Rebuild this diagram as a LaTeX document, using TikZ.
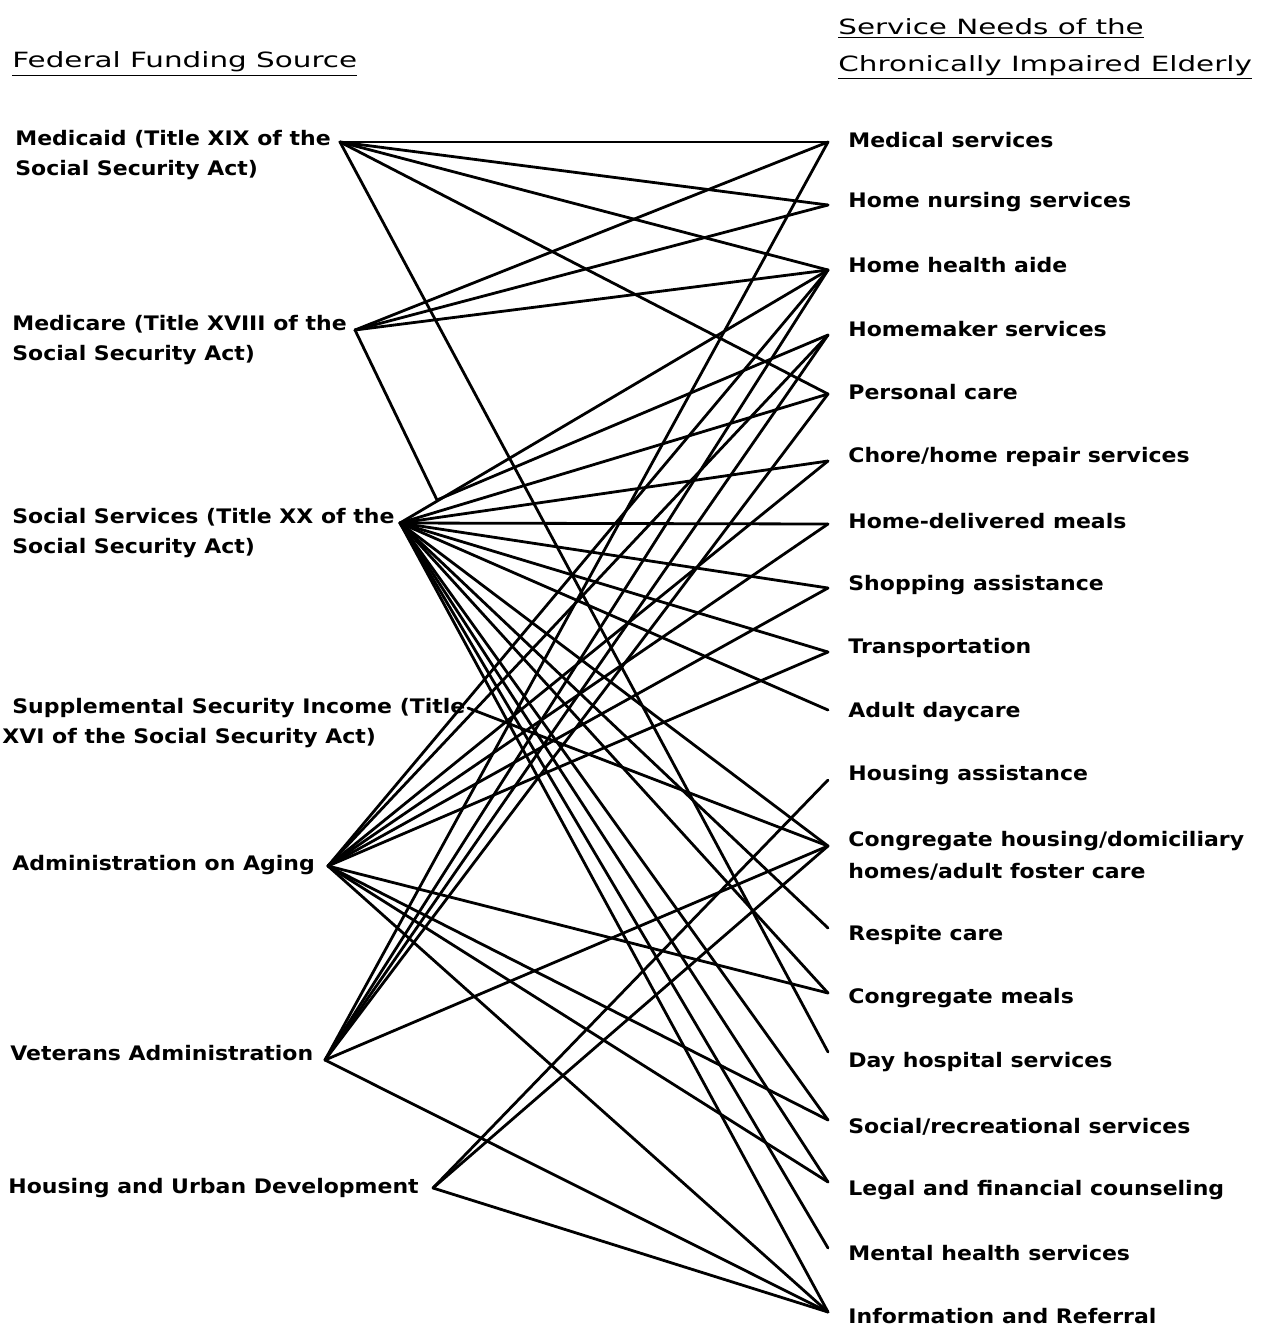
\documentclass[tikz,border=0pt]{standalone}
\usepackage{fontspec}
\setmainfont[FakeStretch=1.1]{DejaVu Sans}
\newfontfamily\headfont[FakeStretch=1.4]{DejaVu Sans}
\usetikzlibrary{positioning}
\tikzset{
  src/.style={anchor=west, inner sep=0pt, align=left, font=\bfseries\fontsize{10}{15}\selectfont},
  need/.style={anchor=west, inner sep=0pt, align=left, font=\bfseries\fontsize{10}{16}\selectfont},
  head/.style={anchor=west, inner sep=0pt, align=left, font=\headfont\fontsize{10.5}{18.5}\selectfont},
  link/.style={line width=1.4pt, line cap=round, line join=round},
}

\begin{document}
\begin{tikzpicture}[x=0.5pt, y=-0.5pt]
  \useasboundingbox (0,0) rectangle (1272,1329);
  % column headings
  \node[head] (h-src) at (12,64) {\underline{Federal Funding Source}};
  \node[head] (h-need) at (838,49) {\underline{Service Needs of the}\\\underline{Chronically Impaired Elderly}};
  % funding sources (text + end point of their lines)
  \node[src] (t-mcd) at (15,155) {Medicaid (Title XIX of the\\Social Security Act)};
  \node[src] (t-mcr) at (12,340) {Medicare (Title XVIII of the\\Social Security Act)};
  \node[src] (t-ss) at (12,533) {Social Services (Title XX of the\\Social Security Act)};
  \node[src] (t-ssi) at (2,723) {\hspace*{5pt}Supplemental Security Income (Title\\XVI of the Social Security Act)};
  \node[src] (t-aoa) at (12,865) {Administration on Aging};
  \node[src] (t-va) at (10,1053) {Veterans Administration};
  \node[src] (t-hud) at (8,1188) {Housing and Urban Development};
  \coordinate (mcd) at (340,142);
  \coordinate (mcr) at (355,330);
  \coordinate (kink) at (437,500);
  \coordinate (ss) at (400,523);
  \coordinate (ssi) at (468,708);
  \coordinate (aoa) at (328,866);
  \coordinate (va) at (325,1060);
  \coordinate (hud) at (433,1188);
  % service needs
  \foreach \n/\y/\e/\txt in {med/140/142/Medical services, nurse/202/205/Home nursing services,
      hha/265/270/Home health aide, home/329/335/Homemaker services, pers/392/394/Personal care,
      chore/457/461/{Chore/home repair services}, meals/521/524/Home-delivered meals,
      shop/585/588/Shopping assistance, trans/648/652/Transportation, adult/712/710/Adult daycare,
      housing/775/780/Housing assistance, respite/935/928/Respite care, congmeals/998/993/Congregate meals,
      dayhosp/1062/1052/Day hospital services, socrec/1127/1120/{Social/recreational services},
      legal/1190/1182/Legal and financial counseling, mental/1253/1248/Mental health services,
      info/1316/1312/Information and Referral}{
    \node[need] (l-\n) at (848,\y) {\txt};
    \coordinate (\n) at (828,\e);
  }
  \node[need] (l-conghouse) at (848,856) {Congregate housing/domiciliary\\homes/adult foster care};
  \coordinate (conghouse) at (828,846);
  % funding links
  \foreach \s/\l in {mcd/{med,nurse,hha,pers,dayhosp},
      mcr/{med,nurse,hha,kink},
      ss/{hha,pers,chore,meals,shop,trans,adult,conghouse,respite,congmeals,socrec,legal,mental,info},
      ssi/{conghouse},
      aoa/{hha,home,chore,meals,shop,trans,congmeals,socrec,legal,info},
      va/{med,hha,home,pers,conghouse,info},
      hud/{housing,conghouse,info}}{
    \foreach \t in \l {\draw[link] (\s) -- (\t);}
  }
  \draw[link] (kink) -- (home);
\end{tikzpicture}
\end{document}
